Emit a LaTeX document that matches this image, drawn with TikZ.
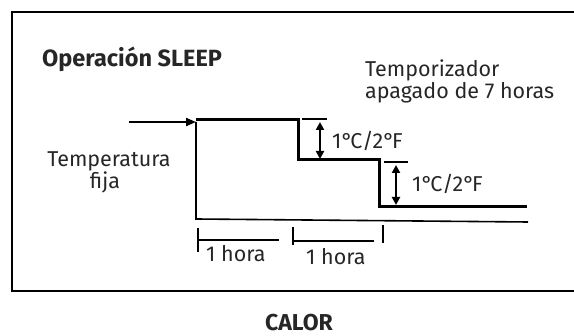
\documentclass[tikz,border=0pt]{standalone}
\usepackage{fontspec}
\setmainfont{Fira Sans}
\usetikzlibrary{arrows.meta, positioning, calc}

\tikzset{
  etiqueta/.style={anchor=base west, inner sep=0pt, text=black!85},
  negrita/.style={font=\fontsize{23.5}{26}\selectfont\bfseries},
  escalon/.style={line width=3pt},
  cota/.style={line width=2pt, {Triangle[length=8pt,width=8pt]}-{Triangle[length=8pt,width=8pt]}},
  barra/.style={line width=2.6pt},
}
\newcommand{\grados}{1°\kern-2.5pt C/2°\kern-2.5pt F}

\begin{document}
\begin{tikzpicture}[x=1pt, y=-1pt, font=\fontsize{21.5}{24}\selectfont]
  \useasboundingbox (0,0) rectangle (574,336);
  \clip (0,0) rectangle (574,336);
  % marco
  \draw[line width=2.6pt] (12,12) rectangle (600,291);

  % textos
  \node[etiqueta, negrita] (titulo) at (42,67) {Operación SLEEP};
  \node[etiqueta] (timerA) at (365,77) {Temporizador};
  \node[etiqueta] (timerB) at (365,99) {apagado de 7 horas};
  \node[etiqueta, anchor=base] (tempA) at (109,167) {Temperatura};
  \node[etiqueta, anchor=base] (tempB) at (105,189) {fija};
  \node[etiqueta, anchor=base, text depth=0pt, font=\fontsize{23}{26}\selectfont\bfseries] (calor) at (299,331) {CALOR};

  % consigna
  \coordinate (inicio) at (129,122);
  \coordinate (s0) at (196,120);
  \draw[line width=2pt, -{Triangle[length=10pt,width=8pt]}] (inicio) -- (s0 |- inicio);
  \draw[escalon] (s0) -- (298,120) -- (298,160) -- (379,160) -- (379,207) -- (527,207);
  \draw[line width=1.6pt] (196,122) -- (196,219) -- (528,222);

  % cotas de temperatura
  \draw[barra] (302,119) -- (327,119);
  \draw[cota] (320,122) -- (320,159);
  \node[etiqueta] (grado1) at (332,149) {\grados};
  \draw[barra] (384,162) -- (408,162);
  \draw[cota] (396,165) -- (396,205);
  \node[etiqueta] (grado2) at (412,192) {\grados};

  % intervalos de una hora
  \draw[barra] (198,228) -- (198,252);
  \draw[barra] (198,240) -- (279,240);
  \node[etiqueta] (hora1) at (206,262) {1 hora};
  \draw[barra] (293,227) -- (293,245);
  \draw[barra] (293,241) -- (374,241);
  \draw[barra] (383,225) -- (383,243);
  \node[etiqueta] (hora2) at (306,265) {1 hora};
\end{tikzpicture}
\end{document}
